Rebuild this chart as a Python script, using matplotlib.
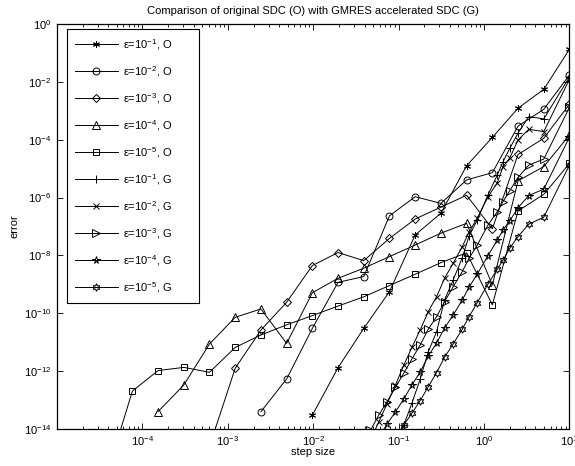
import numpy as np
import matplotlib
matplotlib.use("Agg")
import matplotlib.pyplot as plt
from matplotlib.ticker import FixedLocator, LogLocator, NullLocator, NullFormatter, LogFormatterSciNotation

plt.rcParams['font.family'] = ['Liberation Sans', 'DejaVu Sans']
plt.rcParams['mathtext.fontset'] = 'custom'
plt.rcParams['mathtext.rm'] = 'Liberation Sans'
plt.rcParams['mathtext.it'] = 'Liberation Sans:italic'
plt.rcParams['mathtext.bf'] = 'Liberation Sans:bold'

# step sizes: plain SDC halves the step each run, GMRES-SDC uses T/N with T = 10
h_orig = [10.0, 5.0, 2.5, 1.25, 0.625, 0.3125, 0.15625, 0.078125, 0.0390625,
          0.01953125, 0.009765625, 0.0048828125, 0.00244140625, 0.001220703125,
          6.1035e-4, 3.0518e-4, 1.5259e-4, 7.6294e-5, 3.8147e-5]
h_gmres = [10.0, 5.0, 3.3333, 2.5, 2.0, 1.6667, 1.4286, 1.1111, 0.8333, 0.6667,
           0.5556, 0.4348, 0.3448, 0.2778, 0.2222, 0.1786, 0.1429, 0.1149,
           0.0917, 0.0730, 0.0585, 0.0467]

# log10 of the error, largest step first
log_err_o1 = [-0.87, -2.26, -2.91, -3.92, -4.90, -6.54, -7.29, -9.25, -10.52, -11.88, -13.52]
log_err_o2 = [-1.76, -2.95, -3.53, -5.14, -5.39, -6.20, -5.97, -6.63, -8.73, -8.93, -10.52,
              -12.27, -13.40]
log_err_o3 = [-2.77, -3.95, -4.51, -7.08, -5.92, -6.33, -6.74, -7.41, -8.18, -7.90, -8.35,
              -9.62, -10.58, -11.90, -14.60]
log_err_o4 = [-3.84, -4.93, -5.42, -9.02, -6.89, -7.23, -7.64, -8.04, -8.44, -8.79, -9.29,
              -11.04, -9.85, -10.14, -11.06, -12.48, -13.40]
log_err_o5 = [-4.82, -5.89, -6.46, -9.71, -7.91, -8.25, -8.65, -9.04, -9.43, -9.75, -10.08,
              -10.40, -10.75, -11.18, -12.04, -11.87, -11.98, -12.69, -15.60]

log_err_g1 = [-1.83, -3.28, -3.20, -3.77, -4.30, -4.76, -5.22, -5.91, -6.77, -7.33, -8.08,
              -8.85, -9.54, -10.64, -11.33, -12.28, -13.11, -13.86, -14.70]
log_err_g2 = [-1.91, -3.72, -3.64, -4.01, -4.63, -4.93, -5.49, -5.97, -6.71, -7.19, -7.70,
              -8.27, -8.79, -9.43, -9.94, -10.58, -11.18, -11.79, -12.48, -13.14, -13.75, -14.40]
log_err_g3 = [-2.88, -4.67, -4.88, -5.30, -5.76, -6.14, -6.49, -6.95, -7.64, -8.10, -8.56,
              -9.08, -9.60, -10.12, -10.55, -11.10, -11.58, -12.07, -12.56, -13.06, -13.52, -14.05]
log_err_g4 = [-3.91, -5.71, -5.93, -6.35, -6.80, -7.12, -7.47, -8.01, -8.64, -9.10, -9.54,
              -10.06, -10.51, -11.03, -11.48, -12.03, -12.48, -12.96, -13.41, -13.83, -14.30]
log_err_g5 = [-4.87, -6.68, -6.92, -7.35, -7.75, -8.16, -8.48, -8.99, -9.63, -10.12, -10.55,
              -11.06, -11.52, -12.05, -12.54, -13.02, -13.46, -13.86, -14.30]

labels = ['ε=10$^{-1}$, O', 'ε=10$^{-2}$, O', 'ε=10$^{-3}$, O', 'ε=10$^{-4}$, O', 'ε=10$^{-5}$, O',
          'ε=10$^{-1}$, G', 'ε=10$^{-2}$, G', 'ε=10$^{-3}$, G', 'ε=10$^{-4}$, G', 'ε=10$^{-5}$, G']

series = [(h_orig, log_err_o1), (h_orig, log_err_o2), (h_orig, log_err_o3),
          (h_orig, log_err_o4), (h_orig, log_err_o5),
          (h_gmres, log_err_g1), (h_gmres, log_err_g2), (h_gmres, log_err_g3),
          (h_gmres, log_err_g4), (h_gmres, log_err_g5)]

# matlab-like markers: asterisk, circle, diamond, triangle, square, plus, x, right triangle,
# pentagram, hexagram
markers = [(6, 2, 0), 'o', 'D', '^', 's', '+', 'x', '>', '*', (6, 1, 0)]
msizes = [5, 5, 4.3, 5.5, 4, 5.5, 4, 5.5, 5.5, 5.5]

fig = plt.figure(figsize=(5.75, 4.66), dpi=100)
ax = fig.add_axes([0.0991, 0.0794, 0.8913, 0.8691])

for (h, le), lab, m, ms in zip(series, labels, markers, msizes):
    err = 10.0 ** np.array(le)
    ax.loglog(h[:len(le)], err, color='k', lw=0.7, marker=m, ms=ms, mfc='none',
              mec='k', mew=0.7, label=lab + '       ')

ax.set_xlim(1e-5, 10)
ax.set_ylim(1e-14, 1)

ax.xaxis.set_major_locator(FixedLocator([1e-4, 1e-3, 1e-2, 1e-1, 1e0, 1e1]))
ax.xaxis.set_minor_locator(LogLocator(base=10, subs=np.arange(2, 10), numticks=20))
ax.xaxis.set_minor_formatter(NullFormatter())
ax.xaxis.set_major_formatter(LogFormatterSciNotation())
ax.yaxis.set_major_locator(FixedLocator([10.0 ** k for k in range(-14, 1, 2)]))
ax.yaxis.set_minor_locator(NullLocator())
ax.yaxis.set_major_formatter(LogFormatterSciNotation())

ax.tick_params(which='both', direction='in', top=True, right=True, labelsize=8, width=0.6)
ax.tick_params(which='major', length=4.5, pad=4)
ax.tick_params(which='minor', length=2.2)
for s in ax.spines.values():
    s.set_linewidth(0.9)

ax.set_title('Comparison of original SDC (O) with GMRES accelerated SDC (G)', fontsize=8, pad=7)
ax.set_xlabel('step size', fontsize=8, labelpad=-1)
ax.set_ylabel('error', fontsize=8, labelpad=3)

leg = ax.legend(loc='upper left', bbox_to_anchor=(0.0195, 0.9877), borderaxespad=0,
                fontsize=8, handlelength=3.9, handletextpad=0.45, labelspacing=1.1,
                borderpad=0.7, frameon=True, fancybox=False, edgecolor='k', framealpha=1)
leg.get_frame().set_linewidth(0.8)

fig.savefig('out.png', dpi=100)
